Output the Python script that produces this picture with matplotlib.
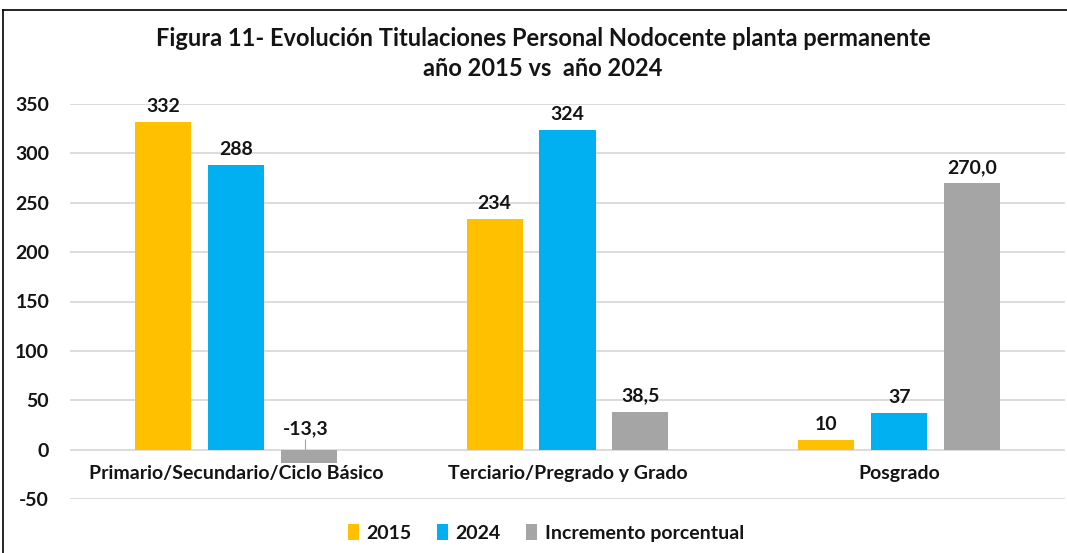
import matplotlib
matplotlib.use("Agg")
import matplotlib.pyplot as plt
import numpy as np
from matplotlib.lines import Line2D

plt.rcParams['font.family'] = ['Lato', 'DejaVu Sans']
plt.rcParams['font.weight'] = 'bold'

categories = ["Primario/Secundario/Ciclo Básico", "Terciario/Pregrado y Grado", "Posgrado"]
series_names = ["2015", "2024", "Incremento porcentual"]
v2015 = [332, 234, 10]
v2024 = [288, 324, 37]
vinc = [-13.3, 38.5, 270.0]
labels_2015 = ["332", "234", "10"]
labels_2024 = ["288", "324", "37"]
labels_inc = ["-13,3", "38,5", "270,0"]
yticks = [-50, 0, 50, 100, 150, 200, 250, 300, 350]
colors = ["#FFC000", "#00B0F0", "#A5A5A5"]
txtc = '#141414'

fig = plt.figure(figsize=(10.67, 5.53), dpi=100)
ax = fig.add_axes([70/1067, (553-499)/553, (1065-70)/1067, (499-104)/553])

x = np.arange(len(categories))
w = 0.169
step = 0.22
series = [v2015, v2024, vinc]
slabels = [labels_2015, labels_2024, labels_inc]
for i, (vals, lbls, c) in enumerate(zip(series, slabels, colors)):
    xs = x + (i - 1) * step
    ax.bar(xs, vals, width=w, color=c, label=series_names[i], zorder=3)
    for xi, v, l in zip(xs, vals, lbls):
        if v >= 0:
            ax.annotate(l, (xi, v), xytext=(0, 5), textcoords='offset points',
                        ha='center', va='bottom', fontsize=14, fontweight='bold', color=txtc)
        else:
            ax.annotate(l, (xi - 0.01, 0), xytext=(0, 9), textcoords='offset points',
                        ha='center', va='bottom', fontsize=14, fontweight='bold', color=txtc,
                        arrowprops=dict(arrowstyle='-', color='#A6A6A6', lw=0.8,
                                        shrinkA=0, shrinkB=0))

ax.set_xlim(-0.5, 2.5)
ax.set_ylim(-50, 350)
ax.set_yticks(yticks)
ax.set_yticklabels([str(t) for t in yticks], fontsize=14, fontweight='bold', color=txtc)
ax.tick_params(axis='y', length=0, pad=15)
ax.tick_params(axis='x', length=0, labelbottom=False)
ax.set_xticks([])
for s in ax.spines.values():
    s.set_visible(False)
ax.yaxis.grid(True, color='#D9D9D9', lw=1.3, zorder=0)
ax.set_axisbelow(True)

for xi, cat in zip(x, categories):
    ax.annotate(cat, (xi, 0), xytext=(0, -11), textcoords='offset points',
                ha='center', va='top', fontsize=14, fontweight='bold', color=txtc)

fig.text(543/1067, 1 - 38/553, "Figura 11- Evolución Titulaciones Personal Nodocente planta permanente",
         ha='center', va='center', fontsize=17, fontweight='bold', color=txtc)
fig.text(543/1067, 1 - 69/553, "año 2015 vs  año 2024",
         ha='center', va='center', fontsize=17, fontweight='bold', color=txtc)

leg = ax.legend(loc='center', bbox_to_anchor=(546/1067, 1 - 533/553), bbox_transform=fig.transFigure,
                ncol=3, frameon=False, fontsize=14, handlelength=0.55, handleheight=0.9,
                handletextpad=0.4, columnspacing=1.3)
for t in leg.get_texts():
    t.set_color(txtc)

# figure border
fig.add_artist(Line2D([3/1067, 3/1067], [0, 1 - 10/553], transform=fig.transFigure, color='black', lw=1.2))
fig.add_artist(Line2D([3/1067, 1], [1 - 10/553, 1 - 10/553], transform=fig.transFigure, color='black', lw=1.2))

fig.savefig("out.png", dpi=100)
